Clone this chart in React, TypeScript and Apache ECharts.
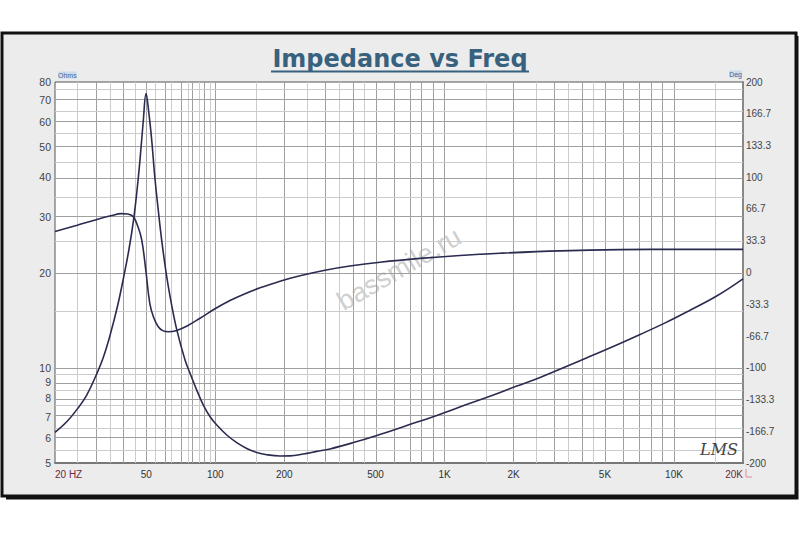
import React, { useEffect, useRef } from "react";
import * as echarts from "echarts";

// Impedance (Ohm) vs frequency (Hz)
const impFreq = [20, 22.5, 25, 27.5, 30, 32.5, 34.8, 37.5, 40, 42, 44, 45.5, 46.9, 48.5, 49.9, 51.3, 52.8, 54.5, 56.4, 58.5, 61.4, 64.5, 67.9, 73.8, 77.6, 83, 88.7, 94.9, 101.5, 112.2, 124, 137.1, 151.6, 167.6, 191.5, 211.8, 242.1, 276.9, 316.5, 400, 506, 684, 924, 1228, 1631, 2063, 2607, 4027, 5371, 7117, 9150, 11754, 15350, 20000];
const impOhm = [6.25, 6.75, 7.4, 8.2, 9.35, 10.8, 12.7, 15.7, 19.6, 23.6, 29.3, 36, 45, 60, 73.5, 64, 52.5, 40, 31.5, 25, 19.4, 15.8, 13.2, 10.58, 9.6, 8.5, 7.62, 7.0, 6.59, 6.13, 5.8, 5.56, 5.4, 5.31, 5.26, 5.265, 5.34, 5.44, 5.54, 5.8, 6.11, 6.57, 7.07, 7.62, 8.2, 8.75, 9.32, 10.64, 11.63, 12.74, 13.86, 15.2, 16.85, 19.1];

// Phase (deg) vs frequency (Hz)
const phaseFreq = [20, 25, 30, 35, 39, 41.5, 43.9, 46, 47.8, 49.9, 51.8, 53.8, 56.4, 59, 62.4, 67.9, 75.3, 85.8, 99.7, 115.9, 134.8, 156.7, 191.5, 234.1, 300.8, 386.6, 523.1, 781.2, 1167, 1744, 3188, 5823, 10635, 20000];
const phaseDeg = [43, 49.6, 55.2, 59.5, 61.8, 61.4, 58.6, 48, 34, 0, -32.3, -47, -56.9, -61, -62.2, -60.8, -56.2, -48.0, -38.1, -29.4, -22.2, -16.1, -9.1, -3.4, 2.4, 6.8, 10.8, 14.8, 17.9, 20.2, 22.7, 24.0, 24.3, 24.3];

// Tick labels
const xLabelFreqs = [20, 50, 100, 200, 500, 1000, 2000, 5000, 10000, 20000];
const xLabelTexts = ["20 HZ", "50", "100", "200", "500", "1K", "2K", "5K", "10K", "20K"];
const ohmTicks = [5, 6, 7, 8, 9, 10, 20, 30, 40, 50, 60, 70, 80];
const degTicks = [-200, -166.7, -133.3, -100, -66.7, -33.3, 0, 33.3, 66.7, 100, 133.3, 166.7, 200];

// Grid lines
const freqGridMajor = [30, 40, 50, 60, 70, 80, 90, 100, 200, 300, 400, 500, 600, 700, 800, 900, 1000, 2000, 3000, 4000, 5000, 6000, 7000, 8000, 9000, 10000];
const freqGridMinor = [25, 35, 45, 55, 65, 75, 85, 95, 150, 250, 350, 450, 1500, 2500, 3500, 4500, 15000];
const ohmGridMajor = [6, 7, 8, 9, 10, 20, 30, 40, 50, 60, 70];
const ohmGridMinor = [5.5, 6.5, 7.5, 8.5, 9.5, 15, 25, 35, 45, 55, 65, 75];

const L = Math.log10;
const FONT = '"Liberation Sans", Arial, sans-serif';
const MAJOR = "#a0a0a0";
const MINOR = "#cccccc";

export default function App() {
  const ref = useRef<HTMLDivElement>(null);

  useEffect(() => {
    if (!ref.current) return;
    const chart = echarts.init(ref.current, null, { renderer: "svg" });

    const impData = impFreq.map((f, i) => [L(f), L(impOhm[i])]);
    const phaseData = phaseFreq.map((f, i) => [L(f), phaseDeg[i]]);

    const vLines = [
      ...freqGridMinor.map((f) => ({ xAxis: L(f), lineStyle: { color: MINOR, width: 1, type: "solid" } })),
      ...freqGridMajor.map((f) => ({ xAxis: L(f), lineStyle: { color: MAJOR, width: 1, type: "solid" } })),
    ];
    const hLines = [
      ...ohmGridMinor.map((v) => ({ yAxis: L(v), lineStyle: { color: MINOR, width: 1, type: "solid" } })),
      ...ohmGridMajor.map((v) => ({ yAxis: L(v), lineStyle: { color: MAJOR, width: 1, type: "solid" } })),
    ];

    const xLabel = (v: number) => {
      const f = Math.pow(10, Number(v));
      const i = xLabelFreqs.findIndex((q) => Math.abs(q - f) / q < 0.01);
      return i >= 0 ? xLabelTexts[i] : "";
    };

    const option: any = {
      animation: false,
      backgroundColor: "#ffffff",
      grid: {
        left: 55,
        right: 57,
        top: 82,
        bottom: 70,
        show: true,
        backgroundColor: "#ffffff",
        borderColor: "#555",
        borderWidth: 1,
      },
      xAxis: {
        type: "value",
        min: L(20),
        max: L(20000),
        axisLine: { show: true, onZero: false, lineStyle: { color: "#777", width: 2 } },
        axisTick: { show: false },
        splitLine: { show: false },
        axisLabel: {
          customValues: xLabelFreqs.map(L),
          formatter: xLabel,
          fontSize: 10,
          fontFamily: FONT,
          margin: 6,
          alignMinLabel: "left",
          alignMaxLabel: "right",
          color: (v: any) => {
            const t = xLabel(Number(v));
            return t === "20 HZ" || t === "20K" ? "#6a2a40" : "#333";
          },
        },
      },
      yAxis: [
        {
          type: "value",
          position: "left",
          min: L(5),
          max: L(80),
          axisLine: { show: false, onZero: false },
          axisTick: { show: false },
          splitLine: { show: false },
          axisLabel: {
            customValues: ohmTicks.map(L),
            formatter: (v: number) => String(Math.round(Math.pow(10, Number(v)))),
            fontSize: 10.5,
            fontFamily: FONT,
            color: "#444",
            margin: 4,
          },
        },
        {
          type: "value",
          position: "right",
          min: -200,
          max: 200,
          splitNumber: 12,
          axisLine: { show: true, onZero: false, lineStyle: { color: "#888", width: 2 } },
          axisTick: { show: false },
          splitLine: { show: false },
          axisLabel: {
            customValues: degTicks,
            formatter: (v: number) => String(v),
            fontSize: 10,
            fontFamily: FONT,
            color: "#444",
            margin: 3,
          },
        },
      ],
      series: [
        {
          name: "Impedance",
          type: "line",
          xAxisIndex: 0,
          yAxisIndex: 0,
          data: impData,
          showSymbol: false,
          symbol: "none",
          smooth: 0.4,
          z: 10,
          lineStyle: { color: "#2b2b50", width: 1.6 },
          markLine: {
            silent: true,
            symbol: ["none", "none"],
            label: { show: false },
            emphasis: { disabled: true },
            animation: false,
            data: [...vLines, ...hLines],
          },
        },
        {
          name: "Phase",
          type: "line",
          xAxisIndex: 0,
          yAxisIndex: 1,
          data: phaseData,
          showSymbol: false,
          symbol: "none",
          smooth: 0.4,
          z: 10,
          lineStyle: { color: "#2b2b50", width: 1.6 },
        },
      ],
      graphic: [
        {
          type: "rect",
          z: -10,
          shape: { x: 2, y: 33, width: 794, height: 463 },
          style: { fill: "#ececec", stroke: "#111", lineWidth: 3 },
        },
        {
          type: "polyline",
          z: -9,
          shape: { points: [[797, 36], [797, 498], [6, 498]] },
          style: { stroke: "#111", lineWidth: 3, fill: null },
        },
        {
          type: "text",
          z: 20,
          x: 400,
          y: 59,
          style: {
            text: "Impedance vs Freq",
            font: 'bold 24px "DejaVu Sans", Verdana, sans-serif',
            fill: "#37617d",
            textAlign: "center",
            textVerticalAlign: "middle",
            align: "center",
            verticalAlign: "middle",
          },
        },
        {
          type: "line",
          z: 20,
          shape: { x1: 271, y1: 71.5, x2: 529, y2: 71.5 },
          style: { stroke: "#37617d", lineWidth: 2 },
        },
        {
          type: "text",
          z: 20,
          x: 58,
          y: 75,
          style: {
            text: "Ohms",
            font: '7px "Liberation Sans", Arial, sans-serif',
            fill: "#4a6a9a",
            backgroundColor: "#cfdbe9",
            textAlign: "left",
            textVerticalAlign: "middle",
            align: "left",
            verticalAlign: "middle",
          },
        },
        {
          type: "text",
          z: 20,
          x: 742,
          y: 74,
          style: {
            text: "Deg",
            font: '7px "Liberation Sans", Arial, sans-serif',
            fill: "#4a6a9a",
            backgroundColor: "#cfdbe9",
            textAlign: "right",
            textVerticalAlign: "middle",
            align: "right",
            verticalAlign: "middle",
          },
        },
        {
          type: "text",
          z: 1,
          x: 399,
          y: 269,
          rotation: Math.PI / 6,
          style: {
            text: "bassmile.ru",
            font: '27px "Liberation Sans", Arial, sans-serif',
            fill: "#d0d0d0",
            textAlign: "center",
            textVerticalAlign: "middle",
            align: "center",
            verticalAlign: "middle",
          },
        },
        {
          type: "text",
          z: 20,
          x: 719,
          y: 449,
          style: {
            text: "LMS",
            font: 'italic 16px "DejaVu Serif", serif',
            fill: "#444",
            textAlign: "center",
            textVerticalAlign: "middle",
            align: "center",
            verticalAlign: "middle",
          },
        },
        {
          type: "polyline",
          z: 20,
          shape: { points: [[746, 469], [746, 477], [752, 477]] },
          style: { stroke: "#e08aa0", lineWidth: 1, fill: null },
        },
      ],
    };

    chart.setOption(option);
    return () => chart.dispose();
  }, []);

  return (
    <div
      ref={ref}
      style={{ position: "fixed", left: 0, top: 0, width: 800, height: 533 }}
    />
  );
}
